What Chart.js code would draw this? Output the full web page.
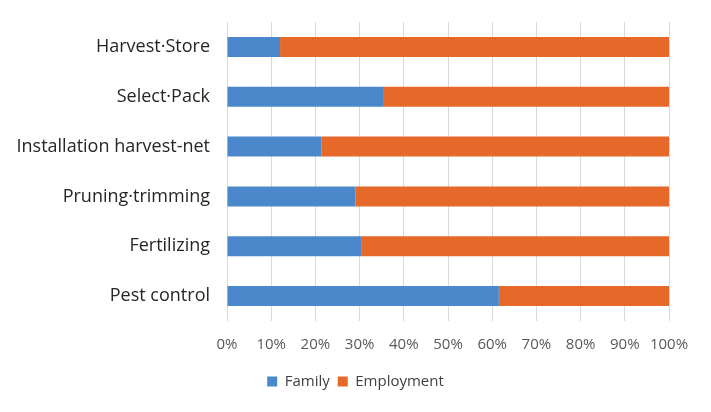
<!DOCTYPE html>
<html>
<head>
<meta charset="utf-8">
<script src="https://cdn.jsdelivr.net/npm/chart.js@4/dist/chart.umd.min.js"></script>
<style>
html,body{margin:0;padding:0;background:#fff;}
#wrap{width:711px;height:412px;position:relative;}
</style>
</head>
<body>
<div id="wrap"><canvas id="c" width="711" height="412"></canvas></div>
<script>
const categories = ["Harvest\u00b7Store", "Select\u00b7Pack", "Installation harvest-net", "Pruning\u00b7trimming", "Fertilizing", "Pest control"];
const familyValues = [12.0, 35.3, 21.4, 29.1, 30.5, 61.5];
const employmentValues = [88.0, 64.7, 78.6, 70.9, 69.5, 38.5];
const seriesNames = ["Family", "Employment"];
const tickValues = [0, 10, 20, 30, 40, 50, 60, 70, 80, 90, 100];

const FONT = "'Open Sans', 'Noto Sans', sans-serif";

new Chart(document.getElementById('c'), {
  type: 'bar',
  data: {
    labels: categories,
    datasets: [
      { label: seriesNames[0], data: familyValues, backgroundColor: '#4a88cb', borderWidth: 0 },
      { label: seriesNames[1], data: employmentValues, backgroundColor: '#e6692a', borderWidth: 0 }
    ]
  },
  options: {
    indexAxis: 'y',
    responsive: false,
    animation: false,
    devicePixelRatio: 1,
    layout: { padding: { top: 22, left: 0, right: 0, bottom: 13 } },
    datasets: { bar: { categoryPercentage: 1.0, barPercentage: 0.4 } },
    scales: {
      x: {
        stacked: true,
        min: 0, max: 100,
        afterBuildTicks: (s) => { s.ticks = tickValues.map(v => ({ value: v })); },
        afterFit: (s) => { s.height = 45; },
        grid: { color: '#d9d9d9', lineWidth: 1, drawTicks: false },
        border: { display: false },
        ticks: {
          padding: 15,
          color: '#595959',
          font: { family: FONT, size: 15 },
          callback: (v) => v + '%'
        }
      },
      y: {
        stacked: true,
        afterFit: (s) => { s.width = 227; s.paddingTop = 0; s.paddingBottom = 0; },
        grid: { display: false, drawTicks: false },
        border: { display: false },
        ticks: {
          padding: 17,
          color: '#262626',
          font: { family: FONT, size: 18 }
        }
      },
      yRight: {
        type: 'category',
        position: 'right',
        labels: categories,
        afterFit: (s) => { s.width = 42; s.paddingTop = 0; s.paddingBottom = 0; },
        grid: { display: false, drawTicks: false },
        border: { display: false },
        ticks: { display: false }
      }
    },
    plugins: {
      legend: {
        position: 'bottom',
        labels: {
          boxWidth: 10, boxHeight: 10,
          padding: 8,
          color: '#404040',
          font: { family: FONT, size: 15 }
        }
      },
      tooltip: { enabled: false }
    }
  }
});
</script>
</body>
</html>
